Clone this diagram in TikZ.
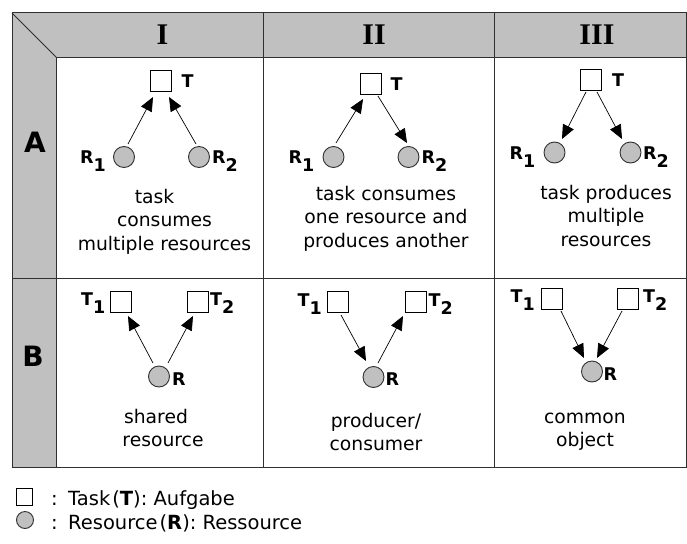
\documentclass[tikz,border=0pt]{standalone}
\usepackage{fontspec}
\setmainfont{DejaVu Sans}
\newfontfamily\hdrfont{Liberation Serif}
\usetikzlibrary{arrows.meta,calc}
\definecolor{hdrgray}{HTML}{C0C0C0}
\definecolor{resgray}{HTML}{C0C0C0}
\definecolor{gridcol}{HTML}{303030}
\newcommand\txtfont{\fontsize{18.75pt}{23.75pt}\selectfont}
\newcommand\lgfont{\fontsize{19.5pt}{23.75pt}\selectfont}
\newcommand\lblfont{\fontsize{17.5pt}{17.5pt}\selectfont\bfseries}
\newcommand\lowsub[2]{#1\raisebox{-8pt}{#2}}
\newcommand\blk[1]{\begin{tabular}[t]{@{}c@{}}#1\end{tabular}}
\begin{document}
\begin{tikzpicture}[x=1pt,y=-1pt,
  task/.style={draw=black, fill=white, minimum size=21pt, inner sep=0pt, line width=0.9pt},
  res/.style={circle, draw=gridcol, fill=resgray, minimum size=21pt, inner sep=0pt, line width=0.9pt},
  arr/.style={-{Triangle[length=14pt,width=12pt]}, line width=0.7pt, black},
  lbl/.style={inner sep=0pt, font=\lblfont},
  txt/.style={inner sep=0pt, anchor=base, font=\txtfont},
  lgtxt/.style={inner sep=0pt, anchor=base west, font=\lgfont},
  gridline/.style={draw=gridcol, line width=1pt},
  hdr/.style={inner sep=0pt, font=\hdrfont\bfseries\fontsize{30pt}{30pt}\selectfont},
  rowlbl/.style={inner sep=0pt, font=\bfseries\fontsize{28pt}{28pt}\selectfont},
]
\useasboundingbox (0,0) rectangle (687,543);
% table background and lines
\fill[hdrgray] (12,13) rectangle (686,57);
\fill[hdrgray] (12,13) rectangle (56,467);
\draw[gridline] (12,13) rectangle (686,467);
\draw[gridline] (56,57) -- (686,57);
\draw[gridline] (56,57) -- (56,467);
\draw[gridline] (12,13) -- (56,57);
\draw[gridline] (263,13) -- (263,467);
\draw[gridline] (494,13) -- (494,467);
\draw[gridline] (12,278) -- (686,278);
% headers
\node[hdr] (hI) at (162.5,35) {I};
\node[hdr] (hII) at (374,35) {II};
\node[hdr] (hIII) at (597,35) {III};
\node[rowlbl] (rA) at (35,142) {A};
\node[rowlbl] (rB) at (33,356) {B};
% ---- A-I
\node[task] (aiT) at (160.5,80.5) {};
\node[res] (aiR1) at (124,157) {};
\node[res] (aiR2) at (199,157) {};
\node[lbl, anchor=base west] (aiTl) at ($(aiT.east)+(10,6.5)$) {T};
\node[lbl, anchor=base east] (aiR1l) at ($(aiR1.west)+(-7,6.5)$) {\lowsub{R}{1}};
\node[lbl, anchor=base west] (aiR2l) at ($(aiR2.east)+(2,6.5)$) {\lowsub{R}{2}};
\draw[arr] ($(aiR1)+(4,-13)$) -- ($(aiT)+(-7.5,16.5)$);
\draw[arr] ($(aiR2)+(-3,-13)$) -- ($(aiT)+(8.5,16.5)$);
\node[txt] (aiTx) at (164.5,203) {\blk{task\hspace*{20pt}\\consumes\\multiple resources}};
% ---- A-II
\node[task] (aiiT) at (370.5,83.5) {};
\node[res] (aiiR1) at (333.5,157) {};
\node[res] (aiiR2) at (408.5,157) {};
\node[lbl, anchor=base west] (aiiTl) at ($(aiiT.east)+(9,6.5)$) {T};
\node[lbl, anchor=base east] (aiiR1l) at ($(aiiR1.west)+(-8,6.5)$) {\lowsub{R}{1}};
\node[lbl, anchor=base west] (aiiR2l) at ($(aiiR2.east)+(2,6.5)$) {\lowsub{R}{2}};
\draw[arr] ($(aiiR1)+(2.5,-14)$) -- ($(aiiT)+(-7.5,15.5)$);
\draw[arr] ($(aiiT)+(7.5,12.5)$) -- ($(aiiR2)+(-1.5,-14)$);
\node[txt] (aiiTx) at (386,200) {\blk{task consumes\\one resource and\\produces another}};
% ---- A-III
\node[task] (aiiiT) at (591,80) {};
\node[res] (aiiiR1) at (554.5,152.5) {};
\node[res] (aiiiR2) at (630.5,152.5) {};
\node[lbl, anchor=base west] (aiiiTl) at ($(aiiiT.east)+(10,6.5)$) {T};
\node[lbl, anchor=base east] (aiiiR1l) at ($(aiiiR1.west)+(-8,6.5)$) {\lowsub{R}{1}};
\node[lbl, anchor=base west] (aiiiR2l) at ($(aiiiR2.east)+(1.5,6.5)$) {\lowsub{R}{2}};
\draw[arr] ($(aiiiT)+(-5,12)$) -- ($(aiiiR1)+(7.5,-13.5)$);
\draw[arr] ($(aiiiT)+(6,12)$) -- ($(aiiiR2)+(-8.5,-13.5)$);
\node[txt] (aiiiTx) at (606,199) {\blk{task produces\\multiple\\resources}};
% ---- B-I
\node[task] (biT1) at (120.5,301.5) {};
\node[task] (biT2) at (198,301.5) {};
\node[res] (biR) at (159,376.5) {};
\node[lbl, anchor=base east] (biT1l) at ($(biT1.west)+(-4,4)$) {\lowsub{T}{1}};
\node[lbl, anchor=base west] (biT2l) at ($(biT2.east)+(1,4)$) {\lowsub{T}{2}};
\node[lbl, anchor=base west] (biRl) at ($(biR.east)+(2,9)$) {R};
\draw[arr] ($(biR)+(-6,-13.5)$) -- ($(biT1)+(7.5,14.5)$);
\draw[arr] ($(biR)+(9,-13.5)$) -- ($(biT2)+(-5,14.5)$);
\node[txt] (biTx) at (163,423) {\blk{shared\hspace*{14pt}\\resource}};
% ---- B-II
\node[task] (biiT1) at (338,302) {};
\node[task] (biiT2) at (415.5,302) {};
\node[res] (biiR) at (373.5,377) {};
\node[lbl, anchor=base east] (biiT1l) at ($(biiT1.west)+(-5,4)$) {\lowsub{T}{1}};
\node[lbl, anchor=base west] (biiT2l) at ($(biiT2.east)+(2,4)$) {\lowsub{T}{2}};
\node[lbl, anchor=base west] (biiRl) at ($(biiR.east)+(1,8.5)$) {R};
\draw[arr] ($(biiT1)+(3,13)$) -- ($(biiR)+(-7.5,-16)$);
\draw[arr] ($(biiR)+(4.5,-14)$) -- ($(biiT2)+(-12.5,14)$);
\node[txt] (biiTx) at (376,427) {\blk{producer/\\consumer}};
% ---- B-III
\node[task] (biiiT1) at (552,298.5) {};
\node[task] (biiiT2) at (628,298.5) {};
\node[res] (biiiR) at (592,371.5) {};
\node[lbl, anchor=base east] (biiiT1l) at ($(biiiT1.west)+(-6,4)$) {\lowsub{T}{1}};
\node[lbl, anchor=base west] (biiiT2l) at ($(biiiT2.east)+(4,4)$) {\lowsub{T}{2}};
\node[lbl, anchor=base west] (biiiRl) at ($(biiiR.east)+(0.5,8.5)$) {R};
\draw[arr] ($(biiiT1)+(9,12.5)$) -- ($(biiiR)+(-8,-13.5)$);
\draw[arr] ($(biiiT2)+(-6,12.5)$) -- ($(biiiR)+(5,-13.5)$);
\node[txt] (biiiTx) at (585,423) {\blk{common\\object}};
% ---- legend
\node[task, minimum width=16pt, minimum height=17pt] (lgT) at (24.5,497) {};
\node[res, minimum size=17pt] (lgR) at (25,520) {};
\node[lgtxt] (lgc1) at (51,505) {:};
\node[lgtxt] (lgc2) at (51,529) {:};
\node[lgtxt] (lgTx) at (68,505) {Task\hspace{2pt}(\textbf{T}): Aufgabe};
\node[lgtxt] (lgRx) at (68,529) {Resource\hspace{2pt}(\textbf{R}): Ressource};
\end{tikzpicture}
\end{document}
